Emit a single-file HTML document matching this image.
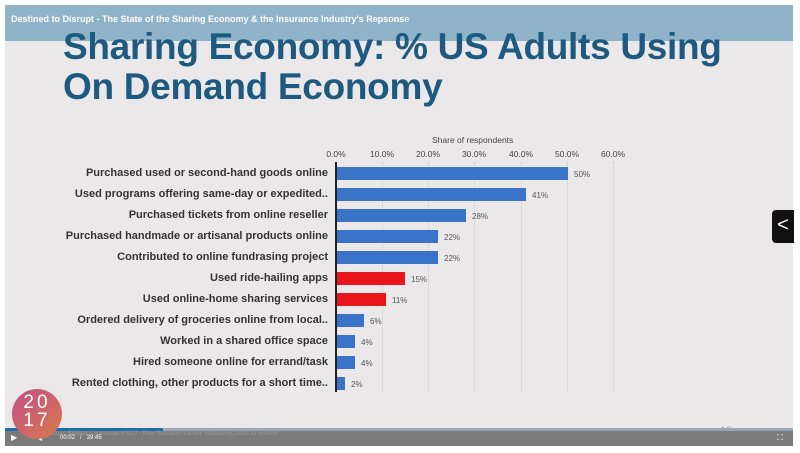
<!DOCTYPE html>
<html><head><style>
body{margin:0;width:800px;height:453px;background:#fff;position:relative;overflow:hidden;font-family:"Liberation Sans",sans-serif}
#slide{position:absolute;left:5px;top:5px;width:788px;height:441px;background:#ebe8ea}
#ban{position:absolute;left:5px;top:5px;width:788px;height:36px;background:#8fb4c9;color:#fff;font-size:9px;font-weight:bold}
#ban span{position:absolute;left:6px;top:9px}
.t{position:absolute;left:63px;color:#1e5a80;font-weight:bold;font-size:37px;letter-spacing:-0.3px}
.lab{position:absolute;right:472px;font-size:11px;font-weight:bold;color:#333;white-space:nowrap}
.bar{position:absolute;left:337px;height:13px;background:#3a74c9}
.v{position:absolute;font-size:8px;color:#555}
.tk{position:absolute;top:149px;font-size:8.5px;color:#444;transform:translateX(-50%)}
.g{position:absolute;top:162px;height:230px;border-left:1px dotted #ccc}
</style></head><body>
<div id="slide"></div>
<div id="ban"><span>Destined to Disrupt - The State of the Sharing Economy &amp; the Insurance Industry's Repsonse</span></div>
<div class="t" style="top:26px">Sharing Economy: % US Adults Using</div>
<div class="t" style="top:66px">On Demand Economy</div>
<div style="position:absolute;left:432px;top:135px;font-size:8.5px;color:#444">Share of respondents</div>
<div class="tk" style="left:336px">0.0%</div><div class="tk" style="left:382px">10.0%</div><div class="tk" style="left:428px">20.0%</div><div class="tk" style="left:474px">30.0%</div><div class="tk" style="left:521px">40.0%</div><div class="tk" style="left:567px">50.0%</div><div class="tk" style="left:613px">60.0%</div>
<div class="g" style="left:382px"></div><div class="g" style="left:428px"></div><div class="g" style="left:474px"></div><div class="g" style="left:521px"></div><div class="g" style="left:567px"></div><div class="g" style="left:613px"></div>
<div style="position:absolute;left:335px;top:162px;width:2px;height:230px;background:#222"></div>
<div class="lab" style="top:167px">Purchased used or second-hand goods online</div><div class="bar" style="top:167px;width:231px"></div><div class="v" style="top:170px;left:574px">50%</div>
<div class="lab" style="top:188px">Used programs offering same-day or expedited..</div><div class="bar" style="top:188px;width:189px"></div><div class="v" style="top:191px;left:532px">41%</div>
<div class="lab" style="top:209px">Purchased tickets from online reseller</div><div class="bar" style="top:209px;width:129px"></div><div class="v" style="top:212px;left:472px">28%</div>
<div class="lab" style="top:230px">Purchased handmade or artisanal products online</div><div class="bar" style="top:230px;width:101px"></div><div class="v" style="top:233px;left:444px">22%</div>
<div class="lab" style="top:251px">Contributed to online fundrasing project</div><div class="bar" style="top:251px;width:101px"></div><div class="v" style="top:254px;left:444px">22%</div>
<div class="lab" style="top:272px">Used ride-hailing apps</div><div class="bar" style="top:272px;width:68px;background:#e8161a"></div><div class="v" style="top:275px;left:411px">15%</div>
<div class="lab" style="top:293px">Used online-home sharing services</div><div class="bar" style="top:293px;width:49px;background:#e8161a"></div><div class="v" style="top:296px;left:392px">11%</div>
<div class="lab" style="top:314px">Ordered delivery of groceries online from local..</div><div class="bar" style="top:314px;width:27px"></div><div class="v" style="top:317px;left:370px">6%</div>
<div class="lab" style="top:335px">Worked in a shared office space</div><div class="bar" style="top:335px;width:18px"></div><div class="v" style="top:338px;left:361px">4%</div>
<div class="lab" style="top:356px">Hired someone online for errand/task</div><div class="bar" style="top:356px;width:18px"></div><div class="v" style="top:359px;left:361px">4%</div>
<div class="lab" style="top:377px">Rented clothing, other products for a short time..</div><div class="bar" style="top:377px;width:8px"></div><div class="v" style="top:380px;left:351px">2%</div>
<div style="position:absolute;left:772px;top:210px;width:22px;height:33px;background:#111;border-radius:4px 0 0 4px;color:#fff;font-size:20px;text-align:center;line-height:31px">&lt;</div>
<div style="position:absolute;left:720px;top:423px;font-size:12px;color:#999;font-family:'Liberation Serif',serif">10</div>
<div style="position:absolute;left:5px;top:428px;width:788px;height:18px;background:#7b7b7b"></div>
<div style="position:absolute;left:5px;top:428px;width:788px;height:3px;background:#9aa7b3"></div>
<div style="position:absolute;left:5px;top:428px;width:158px;height:3px;background:#1a6fa8"></div>
<div style="position:absolute;left:45px;top:431px;font-size:6px;color:#999">Source: Statista – accessed 8/6/17 - Pew Research Center, MarketingCharts ID 554999</div>
<div style="position:absolute;left:11px;top:433px;font-size:8px;color:#fff">▶</div>
<div style="position:absolute;left:36px;top:433px;font-size:8px;color:#fff">◀</div>
<div style="position:absolute;left:60px;top:435px;font-size:6px;color:#fff">00:02 &nbsp; / &nbsp; 39:45</div>
<div style="position:absolute;left:777px;top:433px;font-size:8px;color:#fff">⛶</div>
<div style="position:absolute;left:12px;top:389px;width:50px;height:50px;border-radius:50%;background:linear-gradient(135deg,#c0508a,#d97a4a);color:#fff;font-size:19px;line-height:18px;text-align:center;padding-top:5px;box-sizing:border-box;letter-spacing:3px">20<br>17</div>
</body></html>
